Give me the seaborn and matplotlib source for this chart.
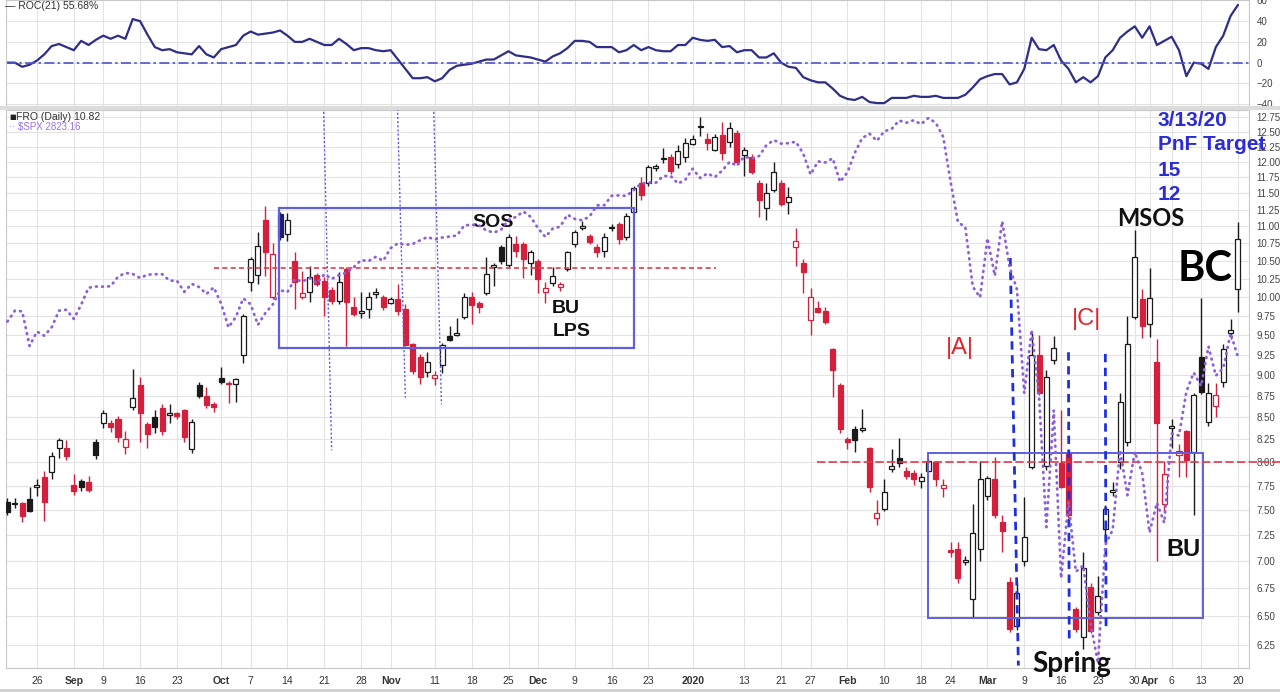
import numpy as np
import pandas as pd
import matplotlib
matplotlib.use("Agg")
import matplotlib.pyplot as plt
from matplotlib.patches import Rectangle
from matplotlib.ticker import FixedLocator, NullLocator, NullFormatter, FuncFormatter
import seaborn as sns

sns.set_style("whitegrid")
plt.rcParams['font.family'] = ['Liberation Sans', 'DejaVu Sans']

# trading days shown (Aug 20 2019 .. Apr 20 2020)
holidays = ["2019-09-02", "2019-11-28", "2019-12-25", "2020-01-01",
            "2020-01-20", "2020-02-17", "2020-04-10"]
days = pd.bdate_range("2019-08-20", "2020-04-20")
days = days[~days.isin(pd.to_datetime(holidays))]

# FRO daily candles
opens = [7.58, 7.56, 7.57, 7.61, 7.74, 7.84, 7.90, 8.16, 8.16, 7.76,
         7.80, 7.79, 8.22, 8.44, 8.43, 8.48, 8.17, 8.62, 8.88, 8.42,
         8.50, 8.61, 8.53, 8.55, 8.58, 8.14, 8.88, 8.75, 8.65, 8.96,
         8.90, 8.89, 9.25, 10.20, 10.30, 11.10, 10.00, 11.18, 10.88, 10.50,
         10.00, 10.07, 10.30, 10.22, 10.10, 9.95, 10.39, 9.87, 9.78, 9.84,
         10.04, 10.00, 9.92, 9.97, 9.84, 9.38, 9.22, 9.04, 8.96, 9.12,
         9.49, 9.50, 9.73, 10.00, 9.92, 10.05, 10.41, 10.69, 10.44, 10.74,
         10.74, 10.47, 10.49, 10.06, 10.19, 10.14, 10.38, 10.74, 10.98, 10.86,
         10.69, 10.64, 10.99, 11.03, 10.84, 11.22, 11.66, 11.66, 11.90, 12.05,
         12.08, 11.97, 12.08, 12.30, 12.57, 12.38, 12.20, 12.44, 12.33, 12.48,
         12.11, 12.08, 11.67, 11.27, 11.56, 11.67, 11.36, 10.70, 10.47, 9.69,
         9.85, 9.81, 9.32, 8.88, 8.25, 8.37, 8.36, 8.16, 7.42, 7.51,
         7.93, 8.05, 7.91, 7.88, 7.80, 7.91, 8.00, 7.73, 7.11, 7.12,
         6.99, 6.65, 7.12, 7.64, 7.82, 7.38, 6.81, 6.41, 7.00, 7.95,
         9.24, 7.96, 9.18, 7.99, 8.10, 6.56, 6.32, 6.76, 6.54, 7.31,
         7.68, 8.00, 8.22, 9.73, 9.97, 9.64, 9.16, 7.56, 8.38, 8.08,
         8.34, 8.11, 9.22, 8.45, 8.63, 8.91, 9.52, 10.11]
highs = [7.62, 7.62, 7.58, 7.74, 7.82, 7.91, 8.11, 8.27, 8.24, 7.87,
         7.82, 7.85, 8.25, 8.58, 8.47, 8.52, 8.35, 9.07, 8.98, 8.45,
         8.58, 8.66, 8.65, 8.56, 8.60, 8.48, 8.92, 8.85, 8.68, 9.10,
         8.93, 8.96, 9.77, 10.55, 10.92, 11.30, 10.75, 11.22, 11.20, 10.62,
         10.35, 10.42, 10.33, 10.27, 10.14, 10.34, 10.41, 10.00, 10.07, 10.06,
         10.12, 10.03, 10.00, 10.17, 9.90, 9.40, 9.26, 9.28, 9.05, 9.40,
         9.62, 9.72, 10.05, 10.07, 9.95, 10.55, 10.47, 10.72, 10.88, 10.86,
         10.77, 10.66, 10.52, 10.20, 10.41, 10.20, 10.64, 10.95, 11.08, 10.88,
         10.74, 10.90, 11.03, 11.06, 11.20, 11.62, 11.75, 11.95, 11.96, 12.22,
         12.12, 12.27, 12.40, 12.45, 12.75, 12.47, 12.46, 12.67, 12.67, 12.52,
         12.25, 12.12, 11.71, 11.67, 12.00, 11.71, 11.60, 10.98, 10.52, 10.12,
         9.95, 9.86, 9.34, 8.90, 8.28, 8.40, 8.60, 8.17, 7.60, 7.82,
         8.14, 8.27, 7.95, 7.92, 7.88, 8.03, 8.01, 7.82, 7.18, 7.18,
         7.05, 7.56, 8.01, 7.85, 8.06, 7.45, 6.85, 6.80, 7.63, 9.53,
         9.50, 9.06, 9.48, 8.58, 8.12, 6.58, 7.09, 6.80, 6.86, 7.55,
         7.79, 8.78, 9.75, 10.95, 10.11, 10.40, 9.45, 8.01, 8.48, 8.20,
         8.36, 8.78, 9.99, 8.90, 8.90, 9.38, 9.71, 11.06]
lows = [7.45, 7.52, 7.38, 7.48, 7.64, 7.39, 7.82, 8.05, 8.02, 7.65,
        7.70, 7.68, 8.03, 8.38, 8.33, 8.22, 8.09, 8.58, 8.22, 8.15,
        8.32, 8.30, 8.44, 8.48, 8.22, 8.10, 8.73, 8.61, 8.56, 8.89,
        8.67, 8.68, 9.15, 10.08, 10.17, 10.28, 9.97, 10.80, 10.78, 9.84,
        9.97, 9.93, 10.15, 9.75, 9.90, 9.90, 9.36, 9.74, 9.72, 9.72,
        9.99, 9.82, 9.90, 9.76, 9.36, 9.01, 8.89, 8.98, 8.88, 9.02,
        9.42, 9.49, 9.70, 9.64, 9.78, 10.02, 10.15, 10.45, 10.40, 10.55,
        10.26, 10.30, 10.05, 9.92, 10.15, 10.08, 10.35, 10.70, 10.94, 10.74,
        10.55, 10.55, 10.93, 10.74, 10.80, 11.20, 11.40, 11.62, 11.85, 11.98,
        11.80, 11.90, 12.00, 12.27, 12.42, 12.20, 12.17, 12.03, 12.25, 11.95,
        11.78, 11.80, 11.14, 11.10, 11.52, 11.30, 11.19, 10.43, 10.05, 9.50,
        9.78, 9.64, 8.74, 8.32, 8.14, 8.11, 8.33, 7.69, 7.35, 7.49,
        7.90, 7.95, 7.82, 7.76, 7.73, 7.89, 7.75, 7.63, 7.04, 6.80,
        6.96, 6.49, 7.00, 7.60, 7.42, 7.09, 6.36, 6.38, 6.95, 7.93,
        8.76, 7.92, 9.14, 7.73, 7.42, 6.36, 6.22, 6.35, 6.51, 7.20,
        7.64, 7.93, 8.18, 9.70, 9.46, 9.47, 7.00, 7.48, 8.16, 7.84,
        7.84, 7.45, 8.77, 8.40, 8.50, 8.86, 9.45, 9.80]
closes = [7.48, 7.57, 7.44, 7.49, 7.76, 7.58, 8.07, 8.24, 8.07, 7.70,
          7.74, 7.71, 8.08, 8.55, 8.39, 8.28, 8.26, 8.73, 8.55, 8.31,
          8.39, 8.34, 8.55, 8.51, 8.28, 8.45, 8.75, 8.64, 8.62, 8.92,
          8.89, 8.95, 9.74, 10.52, 10.71, 10.62, 10.60, 10.84, 11.10, 10.20,
          10.05, 10.27, 10.18, 10.00, 9.95, 10.21, 9.93, 9.77, 9.81, 10.00,
          10.06, 9.87, 9.97, 9.81, 9.37, 9.05, 8.98, 9.16, 9.00, 9.37,
          9.44, 9.52, 10.00, 9.89, 9.87, 10.31, 10.44, 10.49, 10.84, 10.64,
          10.52, 10.63, 10.24, 10.12, 10.29, 10.17, 10.62, 10.92, 11.00, 10.77,
          10.62, 10.84, 10.97, 10.82, 11.15, 11.59, 11.47, 11.91, 11.93, 12.07,
          11.85, 12.17, 12.31, 12.38, 12.59, 12.31, 12.41, 12.15, 12.56, 12.00,
          12.20, 11.84, 11.40, 11.51, 11.84, 11.33, 11.45, 10.78, 10.34, 10.00,
          9.80, 9.67, 9.06, 8.37, 8.22, 8.24, 8.38, 7.74, 7.47, 7.69,
          7.96, 7.99, 7.85, 7.82, 7.84, 8.01, 7.82, 7.76, 7.09, 6.84,
          7.01, 7.27, 7.82, 7.83, 7.45, 7.29, 6.39, 6.71, 7.23, 9.24,
          8.78, 8.98, 9.34, 7.74, 7.45, 6.39, 6.94, 6.37, 6.68, 7.51,
          7.71, 8.68, 9.38, 10.55, 9.62, 9.99, 8.44, 7.87, 8.40, 8.12,
          8.02, 8.76, 8.79, 8.78, 8.76, 9.32, 9.56, 10.82]
candle_color = list("kkrkkrkkrr" "krkkrrrkrr" "krkrrkkrrk" "rkkkkrrnkr"
                    "rkrrrkrrkk" "krkrrrrkrk" "kkkrrkkkkr" "rkrrkrkkkr"
                    "rkkrkkrkkk" "rkkkkrkrkr" "krrkkrkrrr" "rrrrrkkrrk"
                    "kkrrkkrrrr" "kkkkrrrkkk" "rkkrrrkrkk" "kkkkrkrrkr"
                    "rkkkrkkk")

# $SPX closes (overlay, own log scale)
spx = [2900.5, 2924.4, 2923.0, 2847.1, 2878.4, 2869.2, 2887.9, 2924.6, 2926.5,
       2906.3, 2937.8, 2976.0, 2978.7, 2978.4, 2979.4, 3000.9, 3009.6, 3007.4, 2998.0,
       3005.7, 3006.7, 3006.8, 2992.1, 2991.8, 2966.6, 2984.9, 2977.6, 2961.8, 2976.7,
       2940.3, 2887.6, 2910.6, 2952.0, 2938.8, 2893.1, 2919.4, 2938.1, 2970.3, 2966.2,
       2995.7, 2989.7, 2998.0, 2986.2, 3006.7, 2996.0, 3004.5, 3010.3, 3022.6, 3039.4,
       3036.9, 3046.8, 3037.6,
       3066.9, 3078.3, 3074.6, 3076.8, 3085.2, 3093.1, 3087.0, 3091.8, 3094.0, 3096.6,
       3120.5, 3122.0, 3120.2, 3108.5, 3103.5, 3110.3, 3133.6, 3140.5, 3153.6, 3141.0,
       3113.9, 3093.2, 3112.8, 3117.4, 3145.9, 3136.0, 3132.5, 3141.6, 3168.6, 3168.8,
       3191.5, 3192.5, 3191.1, 3205.4, 3221.2, 3224.0, 3223.4, 3239.9, 3240.0, 3221.3,
       3230.8,
       3257.9, 3234.9, 3246.3, 3237.2, 3253.1, 3274.7, 3265.4, 3288.1, 3283.2, 3289.3,
       3316.8, 3329.6, 3320.8, 3321.8, 3325.5, 3295.5, 3243.6, 3276.2, 3273.4, 3283.7,
       3225.5,
       3248.9, 3297.6, 3334.7, 3345.8, 3327.7, 3352.1, 3357.8, 3379.5, 3373.9, 3380.2,
       3370.3, 3386.2, 3373.2, 3337.8, 3225.9, 3128.2, 3116.4, 2978.8, 2954.2,
       3090.2, 3003.4, 3130.1, 3023.9, 2972.4, 2746.6, 2882.2, 2741.4, 2480.6, 2711.0,
       2386.1, 2529.2, 2398.1, 2409.4, 2304.9, 2237.4, 2447.3, 2475.6, 2630.1, 2541.5,
       2626.7, 2584.6,
       2470.5, 2526.9, 2488.7, 2663.7, 2659.4, 2750.0, 2789.8, 2761.6, 2846.1, 2783.4,
       2799.6, 2874.6, 2823.2]

# ROC(21) panel
roc = [0, 0, -4, -2, 2, 8, 16, 18, 15, 12,
       21, 17, 22, 26, 23, 26, 23, 42, 40, 27,
       15, 12, 13, 10, 9, 8, 16, 8, 5, 13,
       15, 17, 26, 30, 27, 28, 29, 31, 26, 20,
       20, 23, 20, 17, 17, 23, 18, 12, 14, 14,
       12, 11, 12, 3, -6, -15, -15, -14, -18, -15,
       -7, -3, -2, -1, 1, 3, 3, 7, 11, 7,
       6, 5, 3, 1, 6, 9, 14, 21, 21, 20,
       15, 15, 15, 10, 12, 17, 12, 15, 12, 11,
       11, 17, 17, 24, 22, 21, 22, 15, 16, 10,
       12, 12, 5, 5, 9, 0, -4, -5, -14, -17,
       -19, -19, -25, -32, -35, -36, -33, -38, -39, -39,
       -34, -34, -34, -32, -33, -33, -32, -34, -34, -34,
       -31, -24, -16, -13, -11, -11, -21, -19, -6, 24,
       13, 12, 17, 2, -6, -19, -14, -19, -13, 5,
       12, 24, 30, 35, 24, 35, 17, 21, 25, 12,
       -13, 0, -1, -6, 15, 26, 45, 55.68]

tick_days = ["2019-08-26", "2019-09-03", "2019-09-09", "2019-09-16", "2019-09-23",
             "2019-10-01", "2019-10-07", "2019-10-14", "2019-10-21", "2019-10-28",
             "2019-11-01", "2019-11-11", "2019-11-18", "2019-11-25", "2019-12-02",
             "2019-12-09", "2019-12-16", "2019-12-23", "2020-01-02", "2020-01-13",
             "2020-01-21", "2020-01-27", "2020-02-03", "2020-02-10", "2020-02-18",
             "2020-02-24", "2020-03-02", "2020-03-09", "2020-03-16", "2020-03-23",
             "2020-03-30", "2020-04-01", "2020-04-06", "2020-04-13", "2020-04-20"]
tick_labels = ["26", "Sep", "9", "16", "23", "Oct", "7", "14", "21", "28", "Nov", "11",
               "18", "25", "Dec", "9", "16", "23", "2020", "13", "21", "27", "Feb", "10",
               "18", "24", "Mar", "9", "16", "23", "30", "Apr", "6", "13", "20"]
month_labels = {"Sep", "Oct", "Nov", "Dec", "2020", "Feb", "Mar", "Apr"}
price_ticks = np.arange(6.25, 12.76, 0.25)
roc_ticks = [-40, -20, 0, 20, 40, 60]
pnf_lines = ["3/13/20", "PnF Target", "15", "12"]

pos = np.arange(len(days))
tick_pos = [days.get_loc(pd.Timestamp(d)) for d in tick_days]

W, H = 1280, 692
def fbox(x0, y0, x1, y1):
    return [x0 / W, 1 - y1 / H, (x1 - x0) / W, (y1 - y0) / H]

fig = plt.figure(figsize=(12.8, 6.92), dpi=100)
ax = fig.add_axes(fbox(6, 110, 1249, 668))
ax_top = fig.add_axes(fbox(6, 0, 1249, 106), sharex=ax)

palette = {"k": "#1a1a1a", "r": "#d41f3d", "n": "#1c1c6b"}
grid_col = "#e3e3e3"

# ---- candles
for i in range(len(pos)):
    o, h, l, c = opens[i], highs[i], lows[i], closes[i]
    col = palette[candle_color[i]]
    ax.vlines(pos[i], l, h, color=col, lw=1.0, zorder=3)
    lo, hi = min(o, c), max(o, c)
    face = "white" if c > o else col
    ax.bar(pos[i], max(hi - lo, 0.015), bottom=lo, width=0.68, facecolor=face,
           edgecolor=col, linewidth=0.9, zorder=4)

# ---- SPX overlay (twin axis, created before y tick setup since twinx resets it)
ax_spx = ax.twinx()
sns.lineplot(x=pos, y=spx, ax=ax_spx, color="#8c5fd8", linewidth=2.0)
spx_line = ax_spx.lines[0]
spx_line.set_linestyle((0, (0.3, 1.9)))
spx_line.set_dash_capstyle("round")
ax_spx.set_yscale("log")
ax_spx.set_ylim(2228.6, 3406.7)
ax_spx.axis("off")

ax.set_yscale("log")
ax.set_ylim(6.06, 12.87)
ax.yaxis.set_major_locator(FixedLocator(price_ticks))
ax.yaxis.set_major_formatter(FuncFormatter(lambda v, p: f"{v:.2f}"))
ax.yaxis.set_minor_locator(NullLocator())
ax.yaxis.set_minor_formatter(NullFormatter())
ax.yaxis.tick_right()
ax.tick_params(axis="y", labelleft=False, labelright=True, left=False, right=False,
               labelsize=7, labelcolor="#444444", pad=2)
ax.set_xticks(tick_pos)
ax.set_xticklabels(tick_labels)
ax.tick_params(axis="x", length=0, labelsize=7.5, labelcolor="#333333", pad=6)
for t in ax.get_xticklabels():
    if t.get_text() in month_labels:
        t.set_fontweight("bold")
ax.grid(True, color=grid_col, lw=0.8)
ax.set_axisbelow(True)
for s in ax.spines.values():
    s.set_color("#c8c8c8")

# ---- ROC panel
sns.lineplot(x=pos, y=roc, ax=ax_top, color="#2e2e88", linewidth=1.6)
ax_top.axhline(0, color="#5252c8", ls=(0, (6, 2, 1.5, 2)), lw=1.2)
ax_top.set_ylim(-41.8, 60.4)
ax_top.set_yticks(roc_ticks)
ax_top.yaxis.tick_right()
ax_top.tick_params(axis="y", labelleft=False, labelright=True, left=False, right=False,
                   labelsize=7, labelcolor="#444444", pad=2)
ax_top.tick_params(axis="x", labelbottom=False, length=0)
ax_top.grid(True, color=grid_col, lw=0.8)
ax_top.set_xlabel("")
ax_top.set_ylabel("")
for s in ax_top.spines.values():
    s.set_color("#c8c8c8")

ax.set_xlim(-0.2, 168.5)

# ---- annotations
box_col = "#5f5fe0"
ax.add_patch(Rectangle((36.9, 9.33), 85.0 - 36.9, 11.27 - 9.33, fill=False,
                       edgecolor=box_col, lw=1.6, zorder=5))
ax.add_patch(Rectangle((125.0, 6.48), 162.3 - 125.0, 8.10 - 6.48, fill=False,
                       edgecolor=box_col, lw=1.4, zorder=5))
ax.plot([28.0, 96.1], [10.40, 10.40], color="#e23a48", ls=(0, (3, 2)), lw=1.2, zorder=5)
ax.plot([109.9, 172.7], [8.0, 8.0], color="#e23a48", ls=(0, (5, 2)), lw=1.2, zorder=5,
        clip_on=False)

for (x0, y0, x1, y1) in [(42.9, 12.91, 44.0, 8.13), (52.9, 13.04, 54.0, 8.73),
                         (57.8, 13.13, 58.9, 8.65)]:
    ax.plot([x0, x1], [y0, y1], color="#5a5af0", ls=(0, (1.5, 1.5)), lw=1.0,
            zorder=6, clip_on=False)
for (x0, y0, x1, y1) in [(136.1, 10.54, 137.2, 6.08), (144.0, 9.28, 144.1, 6.30),
                         (149.0, 9.26, 149.1, 6.37)]:
    ax.plot([x0, x1], [y0, y1], color="#1f2fe0", ls=(0, (3, 2)), lw=2.0, zorder=6)

txt = dict(ha="center", va="center", zorder=8, clip_on=False)
ax.text(65.9, 11.06, "SOS", fontsize=14, fontweight="bold", color="#111111", **txt)
ax.text(75.8, 9.84, "BU", fontsize=14, fontweight="bold", color="#111111", **txt)
ax.text(76.6, 9.55, "LPS", fontsize=14, fontweight="bold", color="#111111", **txt)
ax.text(129.3, 9.33, "|A|", fontsize=17, color="#e8202a", **txt)
ax.text(146.4, 9.71, "|C|", fontsize=17, color="#e8202a", **txt)
ax.text(144.4, 6.09, "Spring", fontsize=20, fontweight="bold", color="#111111",
        family=["Lato", "DejaVu Sans"], **txt)
ax.text(155.2, 11.12, "MSOS", fontsize=17, fontweight="bold", color="#111111",
        family=["Lato", "DejaVu Sans"], **txt)
ax.text(162.5, 10.38, "BC", fontsize=30, fontweight="bold", color="#000000",
        family=["Lato", "DejaVu Sans"], **txt)
ax.text(159.6, 7.11, "BU", fontsize=17, fontweight="bold", color="#111111", **txt)

# PnF target block, one text per line
for line, y_px in zip(pnf_lines, [120, 145, 170, 195]):
    fig.text(1158 / W, 1 - y_px / H, line, fontsize=15, fontweight="bold",
             color="#2b2bd8", ha="left", va="center", zorder=8)

# ---- legends / separators
fig.text(9 / W, 1 - 117 / H, "\u25A0", fontsize=5, color="#222222", va="center",
         family=["DejaVu Sans"])
fig.text(16 / W, 1 - 117 / H, "FRO (Daily) 10.82", fontsize=7.5, color="#333333",
         va="center")
fig.text(9 / W, 1 - 127 / H, "\u00b7\u00b7 \\$SPX 2823.16", fontsize=7, color="#9a72e0",
         va="center")
fig.text(5 / W, 1 - 6 / H, "\u2014 ROC(21) 55.68%", fontsize=7.5, color="#333333",
         va="center")
fig.patches.append(Rectangle((0, 1 - 110 / H), 1, 4 / H, transform=fig.transFigure,
                             facecolor="#dcdcdc", edgecolor="none"))
fig.patches.append(Rectangle((0, 0), 1, 3 / H, transform=fig.transFigure,
                             facecolor="#d0d0d0", edgecolor="none"))

fig.savefig("out.png", dpi=100)
